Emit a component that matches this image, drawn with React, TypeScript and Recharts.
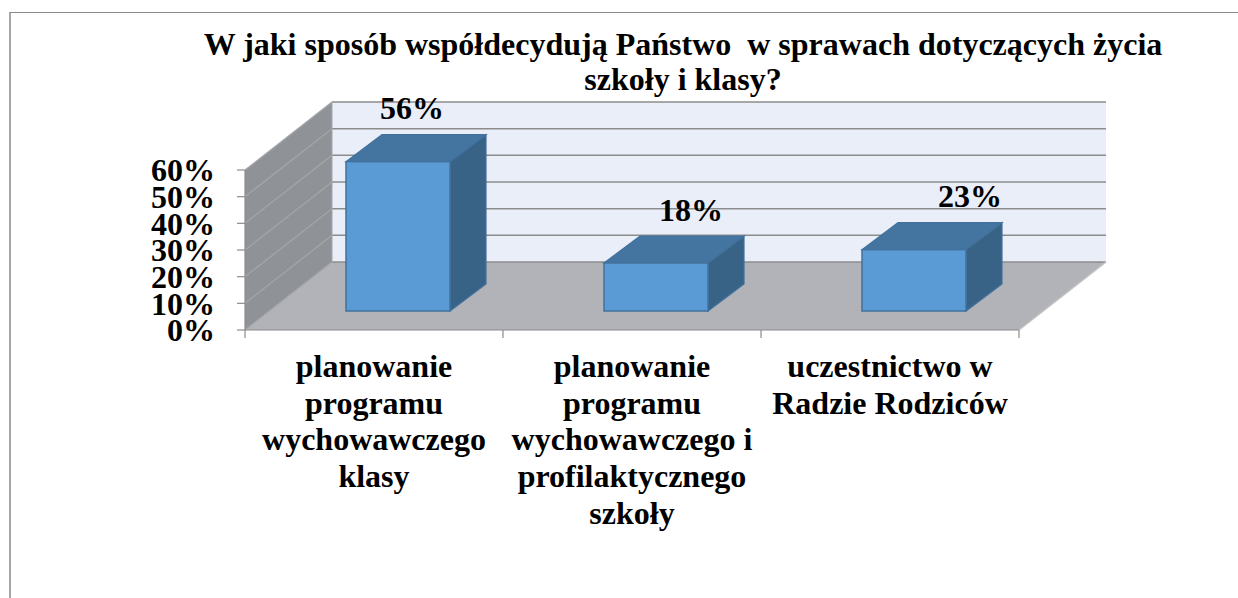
import { BarChart, Bar, XAxis, YAxis, ReferenceArea } from 'recharts';

const titleLines = ['W jaki sposób współdecydują Państwo  w sprawach dotyczących życia', 'szkoły i klasy?'];
const categories = [
  'planowanie\nprogramu\nwychowawczego\nklasy',
  'planowanie\nprogramu\nwychowawczego i\nprofilaktycznego\nszkoły',
  'uczestnictwo w\nRadzie Rodziców',
];
const values = [56, 18, 23];
const yTicks = [0, 10, 20, 30, 40, 50, 60];

const data = categories.map((name, i) => ({ name, value: values[i] }));

const FONT = '"Liberation Serif", "Times New Roman", serif';
const GRID = '#8c8c8c';

// depth of the 3D box (walls) and of each bar
const WALL_DX = 87;
const WALL_DY = 68;
const BAR_SHIFT_X = 24;
const BAR_SHIFT_Y = 19;
const BAR_DX = 36;
const BAR_DY = 27;

const yMax = yTicks[yTicks.length - 1];

function Walls(props: any) {
  const { x, y, width, height } = props;
  const bx = x + WALL_DX;
  const by = y - WALL_DY;
  const yAt = (v: number) => y + height * (1 - v / yMax);
  const bottom = y + height;
  return (
    <g>
      <rect x={bx} y={by} width={width} height={height} fill="#e9eef9" />
      <polygon points={`${x},${y} ${bx},${by} ${bx},${by + height} ${x},${bottom}`} fill="#8f9297" />
      <polygon
        points={`${x},${bottom} ${x + width},${bottom} ${bx + width},${by + height} ${bx},${by + height}`}
        fill="#b1b3b8"
      />
      {yTicks.map((t) => (
        <g key={t}>
          <line x1={bx} y1={yAt(t) - WALL_DY} x2={bx + width} y2={yAt(t) - WALL_DY} stroke={GRID} strokeWidth={1.5} />
          <line x1={x} y1={yAt(t)} x2={bx} y2={yAt(t) - WALL_DY} stroke="#a4a6aa" strokeWidth={1.2} />
        </g>
      ))}
      <line x1={bx} y1={by} x2={bx} y2={by + height} stroke="#a4a6aa" strokeWidth={1} />
      <line x1={x + width} y1={bottom} x2={bx + width} y2={by + height} stroke="#c4c4c4" strokeWidth={1.5} />
    </g>
  );
}

function Box3D(props: any) {
  const { x, y, width, height } = props;
  if (!height) return null;
  const fx = x + BAR_SHIFT_X;
  const fy = y - BAR_SHIFT_Y;
  const top = `${fx},${fy} ${fx + BAR_DX},${fy - BAR_DY} ${fx + width + BAR_DX},${fy - BAR_DY} ${fx + width},${fy}`;
  const side = `${fx + width},${fy} ${fx + width + BAR_DX},${fy - BAR_DY} ${fx + width + BAR_DX},${fy + height - BAR_DY} ${fx + width},${fy + height}`;
  return (
    <g>
      <polygon points={side} fill="#386387" stroke="#41719c" strokeWidth={1.2} />
      <polygon points={top} fill="#4475a0" stroke="#41719c" strokeWidth={1.2} />
      <rect x={fx} y={fy} width={width} height={height} fill="#5b9bd5" stroke="#41719c" strokeWidth={1.5} />
    </g>
  );
}

function renderLabel(props: any) {
  const vb = props.viewBox ?? props;
  const x = props.x ?? vb.x;
  const y = props.y ?? vb.y;
  const width = props.width ?? vb.width;
  const index = props.index ?? 0;
  // labels drift right a little with each bar, like the original perspective
  const cx = x + width / 2 + 38 + index * 21;
  const cy = y - 72;
  return (
    <text x={cx} y={cy} dy="0.33em" textAnchor="middle" fontFamily={FONT} fontWeight="bold" fontSize={32} fill="#000">
      {props.value}%
    </text>
  );
}

function CategoryTick(props: any) {
  const { x, y, payload, index } = props;
  const half = payload?.offset || (props.width ? props.width / (2 * categories.length) : 129);
  const lines = String(payload.value).split('\n');
  return (
    <g>
      <line x1={x - half} y1={y} x2={x - half} y2={y + 8} stroke={GRID} strokeWidth={1.2} />
      {index === categories.length - 1 && (
        <line x1={x + half} y1={y} x2={x + half} y2={y + 8} stroke={GRID} strokeWidth={1.2} />
      )}
      <text x={x} y={y + 47} textAnchor="middle" fontFamily={FONT} fontWeight="bold" fontSize={32} fill="#000">
        {lines.map((l, i) => (
          <tspan key={i} x={x} dy={i === 0 ? 0 : 36.7}>
            {l}
          </tspan>
        ))}
      </text>
    </g>
  );
}

export default function App() {
  return (
    <div
      style={{
        position: 'absolute',
        left: 0,
        top: 0,
        width: 1238,
        height: 598,
        overflow: 'hidden',
        background: '#fff',
        fontFamily: FONT,
      }}
    >
      <div
        style={{
          position: 'absolute',
          left: 9,
          top: 12,
          width: 1400,
          height: 800,
          borderTop: '1px solid #8a8a8a',
          borderLeft: '2px solid #a6a6a6',
        }}
      />
      <BarChart width={1238} height={598} data={data} margin={{ top: 170, right: 219, bottom: 28, left: 145 }}>
        <ReferenceArea y1={0} y2={yMax} shape={<Walls />} />
        <XAxis
          dataKey="name"
          height={240}
          tickLine={false}
          tickSize={0}
          tickMargin={0}
          interval={0}
          axisLine={{ stroke: GRID, strokeWidth: 1.2 }}
          tick={<CategoryTick />}
        />
        <YAxis
          type="number"
          width={100}
          domain={[0, yMax]}
          ticks={yTicks}
          interval={0}
          tickFormatter={(v: number) => `${v}%`}
          tickSize={8}
          tickMargin={22}
          axisLine={{ stroke: GRID, strokeWidth: 1.2 }}
          tickLine={{ stroke: GRID, strokeWidth: 1.2 }}
          tick={{ fill: '#000', fontSize: 32, fontWeight: 'bold', fontFamily: FONT }}
        />
        <Bar dataKey="value" barSize={104} shape={<Box3D />} label={renderLabel} isAnimationActive={false} />
      </BarChart>
      <div
        style={{
          position: 'absolute',
          left: 0,
          top: 27,
          width: 1366,
          textAlign: 'center',
          fontSize: 32,
          fontWeight: 'bold',
          lineHeight: '35px',
          whiteSpace: 'pre',
          color: '#000',
        }}
      >
        {titleLines.map((t) => (
          <div key={t}>{t}</div>
        ))}
      </div>
    </div>
  );
}
